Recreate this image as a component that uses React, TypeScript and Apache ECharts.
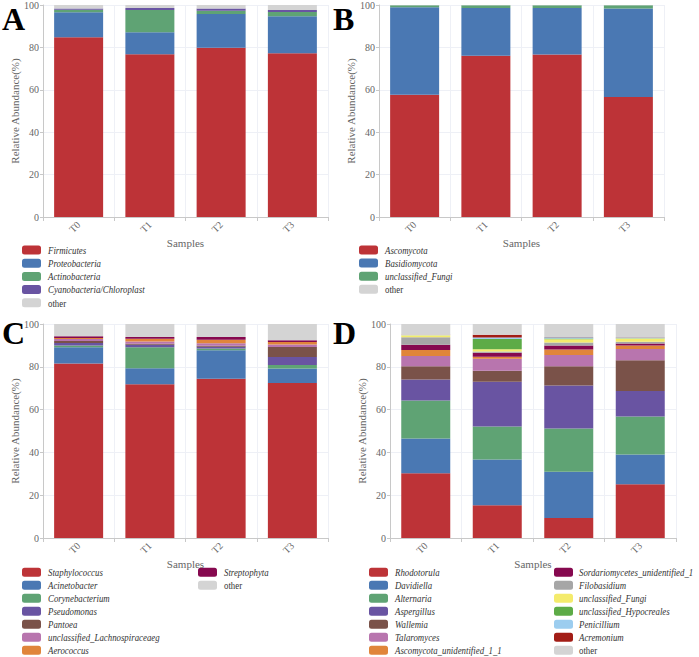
import React, { useEffect, useRef } from "react";
import * as echarts from "echarts";

const samples = ["T0", "T1", "T2", "T3"];
const yTicks = [0, 20, 40, 60, 80, 100];

// Panel A – bacterial phyla
const namesA = ["Firmicutes", "Proteobacteria", "Actinobacteria", "Cyanobacteria/Chloroplast", "other"];
const firmicutes = [84.8, 76.8, 79.8, 77.2];
const proteobacteria = [11.8, 10.4, 16.0, 17.5];
const actinobacteria = [1.2, 10.5, 1.5, 2.0];
const cyanobacteria = [0.6, 0.9, 1.0, 1.0];
const otherA = [1.6, 1.4, 1.7, 2.3];

// Panel B – fungal phyla
const namesB = ["Ascomycota", "Basidiomycota", "unclassified_Fungi", "other"];
const ascomycota = [57.7, 76.1, 76.7, 56.6];
const basidiomycota = [41.2, 22.5, 21.9, 41.8];
const unclassifiedFungiB = [1.0, 1.3, 1.3, 1.5];
const otherB = [0.1, 0.1, 0.1, 0.1];

// Panel C – bacterial genera
const namesC = ["Staphylococcus", "Acinetobacter", "Corynebacterium", "Pseudomonas", "Pantoea", "unclassified_Lachnospiraceaeg", "Aerococcus", "Streptophyta", "other"];
const staphylococcus = [81.6, 71.8, 74.4, 72.4];
const acinetobacter = [7.5, 7.5, 13.3, 6.8];
const corynebacterium = [0.8, 9.8, 0.9, 1.6];
const pseudomonas = [1.2, 1.2, 0.8, 3.8];
const pantoea = [1.0, 0.5, 0.4, 4.6];
const lachnospiraceae = [0.9, 1.0, 1.2, 1.2];
const aerococcus = [0.5, 1.3, 1.6, 1.2];
const streptophyta = [0.8, 0.8, 1.3, 0.8];
const otherC = [5.7, 6.1, 6.1, 7.6];

// Panel D – fungal genera
const namesD = ["Rhodotorula", "Davidiella", "Alternaria", "Aspergillus", "Wallemia", "Talaromyces", "Ascomycota_unidentified_1_1", "Sordariomycetes_unidentified_1", "Filobasidium", "unclassified_Fungi", "unclassified_Hypocreales", "Penicillium", "Acremonium", "other"];
const rhodotorula = [30.3, 15.3, 9.4, 25.1];
const davidiella = [16.2, 21.4, 21.6, 13.9];
const alternaria = [17.8, 15.4, 20.2, 17.8];
const aspergillus = [9.8, 20.9, 20.1, 11.9];
const wallemia = [6.2, 5.2, 9.0, 14.4];
const talaromyces = [4.7, 5.6, 5.2, 5.2];
const ascomycotaUnid = [2.8, 0.9, 2.6, 1.7];
const sordariomycetes = [2.5, 1.9, 1.9, 0.9];
const filobasidium = [3.5, 0.6, 1.3, 0.8];
const unclassifiedFungiD = [0.9, 1.0, 1.6, 1.5];
const hypocreales = [0.0, 4.8, 0.3, 0.1];
const penicillium = [0.2, 0.7, 0.6, 0.4];
const acremonium = [0.1, 1.3, 0.1, 0.1];
const otherD = [5.0, 5.0, 6.1, 6.2];

const RED = "#bd3337";
const BLUE = "#4a78b3";
const GREEN = "#5fa374";
const PURPLE = "#6954a2";
const BROWN = "#7a5249";
const PINK = "#b875ae";
const ORANGE = "#e0853a";
const MAGENTA = "#86094f";
const GRAY = "#a6a6a6";
const YELLOW = "#f4eb6c";
const GREEN2 = "#5dab47";
const LIGHTBLUE = "#9ccdef";
const DARKRED = "#a21d16";
const OTHER = "#d4d4d4";

const colorsA = [RED, BLUE, GREEN, PURPLE, OTHER];
const colorsB = [RED, BLUE, GREEN, OTHER];
const colorsC = [RED, BLUE, GREEN, PURPLE, BROWN, PINK, ORANGE, MAGENTA, OTHER];
const colorsD = [RED, BLUE, GREEN, PURPLE, BROWN, PINK, ORANGE, MAGENTA, GRAY, YELLOW, GREEN2, LIGHTBLUE, DARKRED, OTHER];

const FONT = "Liberation Serif, serif";

export default function App() {
  const ref = useRef<HTMLDivElement>(null);

  useEffect(() => {
    document.body.style.margin = "0";
    if (!ref.current) return;
    const chart = echarts.init(ref.current, null, { renderer: "svg" });

    const panels = [
      { names: namesA, colors: colorsA, data: [firmicutes, proteobacteria, actinobacteria, cyanobacteria, otherA], grid: { left: 43, top: 4, width: 285, height: 213 } },
      { names: namesB, colors: colorsB, data: [ascomycota, basidiomycota, unclassifiedFungiB, otherB], grid: { left: 379, top: 4, width: 285, height: 213 } },
      { names: namesC, colors: colorsC, data: [staphylococcus, acinetobacter, corynebacterium, pseudomonas, pantoea, lachnospiraceae, aerococcus, streptophyta, otherC], grid: { left: 43, top: 324, width: 285, height: 214 } },
      { names: namesD, colors: colorsD, data: [rhodotorula, davidiella, alternaria, aspergillus, wallemia, talaromyces, ascomycotaUnid, sordariomycetes, filobasidium, unclassifiedFungiD, hypocreales, penicillium, acremonium, otherD], grid: { left: 390, top: 324, width: 286, height: 214 } },
    ];

    const grids = panels.map((p) => ({ ...p.grid, containLabel: false }));
    const xAxes = panels.map((_, i) => ({
      type: "category",
      gridIndex: i,
      data: samples,
      name: "Samples",
      nameLocation: "middle",
      nameGap: 12,
      nameTextStyle: { fontFamily: FONT, fontSize: 11, color: "#666" },
      axisLine: { show: true, lineStyle: { color: "#c8c8c8" } },
      axisTick: { show: true, length: 4, lineStyle: { color: "#c8c8c8" } },
      axisLabel: { rotate: 45, fontFamily: FONT, fontSize: 10, color: "#666", margin: 6 },
      splitLine: { show: true, lineStyle: { color: "#eef0f6" } },
    }));
    const yAxes = panels.map((_, i) => ({
      type: "value",
      gridIndex: i,
      min: 0,
      max: 100,
      interval: 20,
      name: "Relative Abundance(%)",
      nameLocation: "middle",
      nameGap: 20,
      nameRotate: 90,
      nameTextStyle: { fontFamily: FONT, fontSize: 11, color: "#666" },
      axisLine: { show: true, lineStyle: { color: "#c8c8c8" } },
      axisTick: { show: true, length: 3, lineStyle: { color: "#c8c8c8" } },
      axisLabel: { fontFamily: FONT, fontSize: 10, color: "#666", margin: 4, formatter: (v: number) => (yTicks.includes(v) ? String(v) : "") },
      splitLine: { show: true, lineStyle: { color: "#eef0f6" } },
    }));

    const series: any[] = [];
    panels.forEach((p, i) => {
      p.names.forEach((n, k) => {
        series.push({
          type: "bar",
          name: n,
          stack: "panel" + i,
          xAxisIndex: i,
          yAxisIndex: i,
          barWidth: 49,
          data: p.data[k],
          itemStyle: { color: p.colors[k] },
        });
      });
    });

    const graphic: any[] = [];
    const addLegend = (names: string[], colors: string[], swatchX: number, textX: number, y0: number, dy: number) => {
      names.forEach((n, k) => {
        const cy = y0 + dy * k;
        graphic.push({
          type: "rect",
          shape: { x: swatchX, y: cy - 4.5, width: 19, height: 9, r: 2.5 },
          style: { fill: colors[k] },
        });
        graphic.push({
          type: "text",
          x: textX,
          y: cy,
          scaleX: 0.84,
          style: {
            text: n,
            fill: "#333",
            fontFamily: FONT,
            fontSize: 10.5,
            fontStyle: n === "other" ? "normal" : "italic",
            verticalAlign: "middle",
            align: "left",
          },
        });
      });
    };
    addLegend(namesA, colorsA, 22, 48, 250, 13.2);
    addLegend(namesB, colorsB, 359, 385, 250, 13.1);
    addLegend(namesC.slice(0, 7), colorsC.slice(0, 7), 22, 48, 572.3, 13);
    addLegend(namesC.slice(7), colorsC.slice(7), 198, 224, 572.3, 13);
    addLegend(namesD.slice(0, 7), colorsD.slice(0, 7), 369, 395, 572.3, 13);
    addLegend(namesD.slice(7), colorsD.slice(7), 554, 579, 572.3, 13);

    const letters = [
      { t: "A", x: 2, y: 19 },
      { t: "B", x: 333, y: 19 },
      { t: "C", x: 2, y: 333 },
      { t: "D", x: 333, y: 333 },
    ];
    letters.forEach((l) => {
      graphic.push({
        type: "text",
        x: l.x,
        y: l.y,
        style: { text: l.t, fill: "#000", fontFamily: FONT, fontWeight: "bold", fontSize: 32, verticalAlign: "middle", align: "left" },
      });
    });

    chart.setOption({
      animation: false,
      backgroundColor: "#fff",
      grid: grids,
      xAxis: xAxes,
      yAxis: yAxes,
      series,
      graphic,
    });

    return () => chart.dispose();
  }, []);

  return <div ref={ref} style={{ width: 699, height: 657 }} />;
}
